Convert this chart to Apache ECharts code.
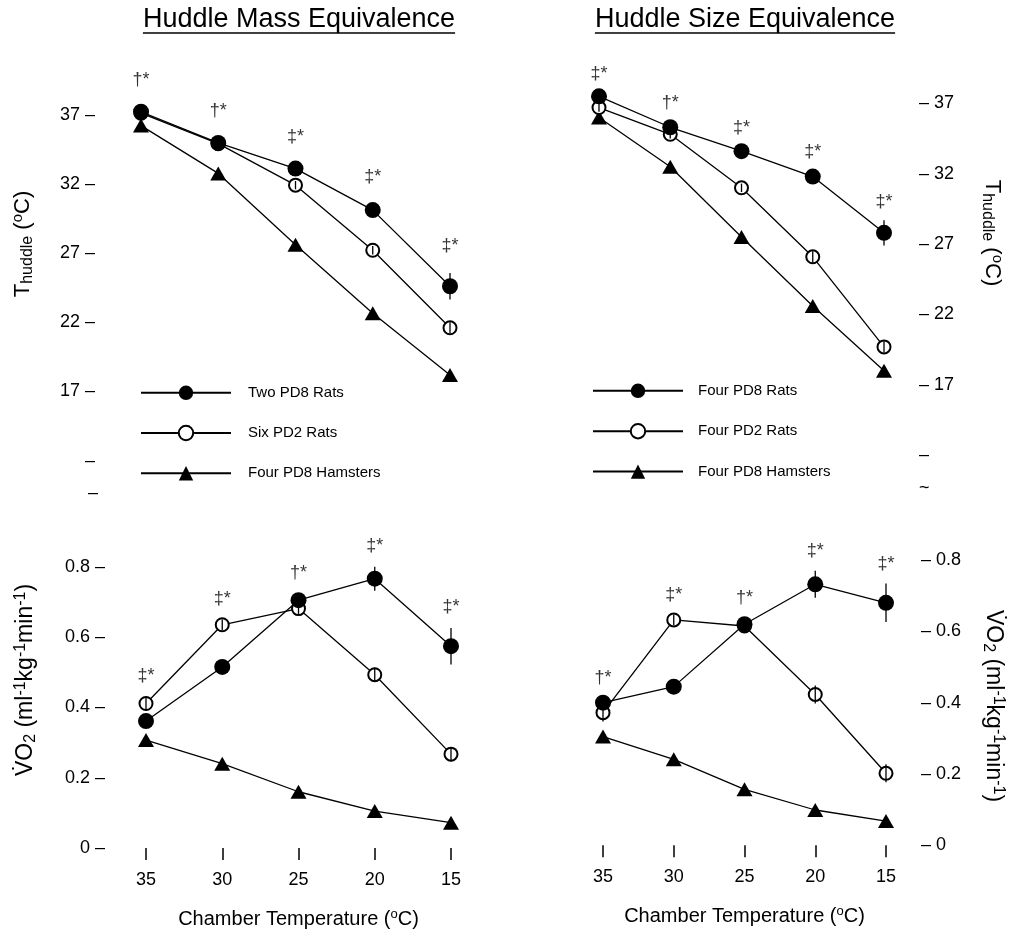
<!DOCTYPE html>
<html><head><meta charset="utf-8">
<script src="https://cdn.jsdelivr.net/npm/echarts@6/dist/echarts.min.js"></script>
<style>html,body{margin:0;padding:0;background:#fff}#c{width:1013px;height:932px}</style>
</head><body><div id="c"></div>
<script>
const FONT = '"Liberation Sans", Arial, Helvetica, sans-serif';
const INK = '#000';

// Chamber temperatures (x categories)
const temps = [35, 30, 25, 20, 15];

// Huddle Mass Equivalence - T_huddle (°C)
const massT_two = [37.2, 34.95, 33.1, 30.1, 24.6];
const massT_twoErr = [0.3, 0.3, 0.3, 0.4, 0.95];
const massT_six = [37.1, 34.9, 31.9, 27.2, 21.6];
const massT_sixErr = [0.2, 0.2, 0.3, 0.3, 0.4];
const massT_ham = [36.2, 32.75, 27.6, 22.65, 18.2];
const massT_marks = ['†*', '†*', '‡*', '‡*', '‡*'];

// Huddle Size Equivalence - T_huddle (°C)
const sizeT_rat8 = [37.5, 35.3, 33.6, 31.8, 27.8];
const sizeT_rat8Err = [0.3, 0.4, 0.3, 0.4, 0.9];
const sizeT_rat2 = [36.7, 34.8, 31.0, 26.1, 19.7];
const sizeT_rat2Err = [0.3, 0.3, 0.3, 0.4, 0.4];
const sizeT_ham = [36.0, 32.5, 27.5, 22.6, 18.0];
const sizeT_marks = ['‡*', '†*', '‡*', '‡*', '‡*'];

// Huddle Mass Equivalence - VO2
const massV_two = [0.361, 0.515, 0.705, 0.766, 0.574];
const massV_twoErr = [0.01, 0.015, 0.02, 0.034, 0.052];
const massV_six = [0.411, 0.635, 0.681, 0.493, 0.267];
const massV_sixErr = [0.02, 0.015, 0.015, 0.02, 0.02];
const massV_ham = [0.307, 0.24, 0.16, 0.105, 0.072];
const massV_marks = ['‡*', '‡*', '†*', '‡*', '‡*'];

// Huddle Size Equivalence - VO2
const sizeV_rat8 = [0.40, 0.445, 0.62, 0.732, 0.68];
const sizeV_rat8Err = [0.015, 0.015, 0.02, 0.038, 0.054];
const sizeV_rat2 = [0.372, 0.632, 0.615, 0.423, 0.202];
const sizeV_rat2Err = [0.025, 0.015, 0.015, 0.025, 0.025];
const sizeV_ham = [0.305, 0.241, 0.157, 0.099, 0.068];
const sizeV_marks = ['†*', '‡*', '†*', '‡*', '‡*'];

// Legend names
const massNames = ['Two PD8 Rats', 'Six PD2 Rats', 'Four PD8 Hamsters'];
const sizeNames = ['Four PD8 Rats', 'Four PD2 Rats', 'Four PD8 Hamsters'];

// Tick labels
const tTicks = [17, 22, 27, 32, 37];
const tBreakTick = 12;
const vTicks = [0, 0.2, 0.4, 0.6, 0.8];
const xTicks = [35, 30, 25, 20, 15];

const chart = echarts.init(document.getElementById('c'));

function yFmt(ticks, side, brk) {
  return function (v) {
    const r = Math.round(v * 1000) / 1000;
    if (ticks.indexOf(r) >= 0) return side === 'left' ? r + ' –' : '– ' + r;
    if (brk !== undefined && r === brk) return '–';
    return '';
  };
}

const zeroErr = [0, 0, 0, 0, 0];
const styles = {
  filled: { symbol: 'circle', symbolSize: 16, itemStyle: { color: INK, borderColor: INK, borderWidth: 0 } },
  open: { symbol: 'circle', symbolSize: 13, itemStyle: { color: '#fff', borderColor: INK, borderWidth: 2 } },
  tri: { symbol: 'triangle', symbolSize: [16, 14], itemStyle: { color: INK, borderColor: INK, borderWidth: 0 } }
};

const series = [];
function addPanel(idx, sets, marks, dist) {
  sets.forEach(s => {
    series.push(Object.assign({
      name: s.name, type: 'line', xAxisIndex: idx, yAxisIndex: idx,
      data: temps.map((t, i) => [t, s.vals[i]]),
      showSymbol: true, showAllSymbol: true, clip: false, animation: false,
      lineStyle: { color: INK, width: 1.3 }, emphasis: { disabled: true }, z: 2
    }, styles[s.kind]));
  });
  sets.forEach(s => {
    series.push({
      type: 'custom', xAxisIndex: idx, yAxisIndex: idx, silent: true, animation: false, z: 5,
      data: temps.map((t, i) => [t, s.vals[i], s.errs[i]]),
      renderItem: function (params, api) {
        const x = api.value(0), y = api.value(1), e = api.value(2);
        if (!e) return null;
        const p1 = api.coord([x, y + e]), p2 = api.coord([x, y - e]);
        return { type: 'line', shape: { x1: p1[0], y1: p1[1], x2: p2[0], y2: p2[1] },
          style: { stroke: INK, lineWidth: 1.3 } };
      }
    });
  });
  const anchors = temps.map((t, i) => Math.max.apply(null, sets.map(s => s.vals[i] + s.errs[i])));
  series.push({
    type: 'scatter', xAxisIndex: idx, yAxisIndex: idx, silent: true, animation: false, z: 6,
    symbolSize: 1, itemStyle: { color: 'rgba(0,0,0,0)' }, clip: false,
    data: temps.map((t, i) => ({ value: [t, anchors[i]], name: marks[i] })),
    label: { show: true, position: 'top', distance: dist, formatter: '{b}',
      fontFamily: FONT, fontSize: 18, color: INK }
  });
}

addPanel(0, [
  { name: massNames[2], vals: massT_ham, errs: zeroErr, kind: 'tri' },
  { name: massNames[1], vals: massT_six, errs: massT_sixErr, kind: 'open' },
  { name: massNames[0], vals: massT_two, errs: massT_twoErr, kind: 'filled' }
], massT_marks, 18);
addPanel(1, [
  { name: sizeNames[2], vals: sizeT_ham, errs: zeroErr, kind: 'tri' },
  { name: sizeNames[1], vals: sizeT_rat2, errs: sizeT_rat2Err, kind: 'open' },
  { name: sizeNames[0], vals: sizeT_rat8, errs: sizeT_rat8Err, kind: 'filled' }
], sizeT_marks, 9);
addPanel(2, [
  { name: massNames[2], vals: massV_ham, errs: zeroErr, kind: 'tri' },
  { name: massNames[1], vals: massV_six, errs: massV_sixErr, kind: 'open' },
  { name: massNames[0], vals: massV_two, errs: massV_twoErr, kind: 'filled' }
], massV_marks, 11);
addPanel(3, [
  { name: sizeNames[2], vals: sizeV_ham, errs: zeroErr, kind: 'tri' },
  { name: sizeNames[1], vals: sizeV_rat2, errs: sizeV_rat2Err, kind: 'open' },
  { name: sizeNames[0], vals: sizeV_rat8, errs: sizeV_rat8Err, kind: 'filled' }
], sizeV_marks, 10);

const labelBase = { fontFamily: FONT, fontSize: 18, color: INK };
const hiddenX = (gi) => ({ gridIndex: gi, type: 'value', min: 15, max: 35, inverse: true, show: false });
const shownX = (gi) => ({
  gridIndex: gi, type: 'value', min: 15, max: 35, interval: 5, inverse: true,
  axisLine: { show: false }, splitLine: { show: false },
  axisTick: { show: true, length: 12, lineStyle: { color: INK, width: 1.5 } },
  axisLabel: Object.assign({ margin: 23, formatter: v => (xTicks.indexOf(v) >= 0 ? String(v) : '') }, labelBase),
  name: '{m|Chamber Temperature (}{sup|o}{m|C)}', nameLocation: 'middle', nameGap: 60,
  nameTextStyle: { rich: {
    m: { fontFamily: FONT, fontSize: 20, color: INK },
    sup: { fontFamily: FONT, fontSize: 13, color: INK, padding: [0, 0, 9, 0] }
  } }
});
const yAx = (gi, min, max, interval, pos, offset, fmt) => ({
  gridIndex: gi, type: 'value', min, max, interval, position: pos, offset,
  axisLine: { show: false }, axisTick: { show: false }, splitLine: { show: false },
  axisLabel: Object.assign({ margin: 2, formatter: fmt, align: pos === 'left' ? 'right' : 'left' }, labelBase)
});

const legendBase = {
  orient: 'vertical', itemWidth: 90, itemHeight: 18, selectedMode: false,
  textStyle: { fontFamily: FONT, fontSize: 15, color: INK }
};

function tw(txt, font) {
  const c = document.createElement('canvas').getContext('2d');
  c.font = font; return c.measureText(txt).width;
}
const titleFont = '27px "Liberation Sans", Arial, sans-serif';
const t1 = 'Huddle Mass Equivalence', t2 = 'Huddle Size Equivalence';
const w1 = tw(t1, titleFont), w2 = tw(t2, titleFont);
const tx1 = 299, tx2 = 745, ty = 20, uy = 33;

const richT = {
  m: { fontFamily: FONT, fontSize: 22, fill: INK },
  sub: { fontFamily: FONT, fontSize: 16, fill: INK, padding: [10, 0, 0, 0] },
  sup: { fontFamily: FONT, fontSize: 15, fill: INK, padding: [0, 0, 11, 0] }
};
const richV = {
  m: { fontFamily: FONT, fontSize: 23, fill: INK },
  sub: { fontFamily: FONT, fontSize: 16, fill: INK, padding: [10, 0, 0, 0] },
  sup: { fontFamily: FONT, fontSize: 16, fill: INK, padding: [0, 0, 11, 0] }
};
const tTitle = '{m|T}{sub|huddle}{m| (}{sup|o}{m|C)}';
const vTitle = '{m|V\u0307O}{sub|2}{m| (ml}{sup|-1}{m|kg}{sup|-1}{m|min}{sup|-1}{m|)}';
function rotText(text, rich, x, y, rot) {
  return { type: 'text', x, y, rotation: rot, silent: true,
    style: { text, rich, align: 'center', verticalAlign: 'middle', fill: INK } };
}

chart.setOption({
  backgroundColor: '#fff',
  animation: false,
  grid: [
    { left: 141, width: 309, top: 73, height: 387.75, outerBoundsMode: 'none' },
    { left: 599, width: 285, top: 61.1, height: 394.2, outerBoundsMode: 'none' },
    { left: 146, width: 305, top: 531.6, height: 316.4, outerBoundsMode: 'none' },
    { left: 603, width: 283, top: 524.4, height: 320.9, outerBoundsMode: 'none' }
  ],
  xAxis: [hiddenX(0), hiddenX(1), shownX(2), shownX(3)],
  yAxis: [
    yAx(0, 12, 40, 5, 'left', 44, yFmt(tTicks, 'left', tBreakTick)),
    yAx(1, 12, 40, 5, 'right', 33, yFmt(tTicks, 'right', tBreakTick)),
    yAx(2, 0, 0.9, 0.2, 'left', 39, yFmt(vTicks, 'left')),
    yAx(3, 0, 0.9, 0.2, 'right', 33, yFmt(vTicks, 'right'))
  ],
  legend: [
    Object.assign({}, legendBase, { data: massNames, left: 135, top: 380.3, itemGap: 24.5,
      textStyle: Object.assign({}, legendBase.textStyle, { padding: [0, 0, 0, 12] }) }),
    Object.assign({}, legendBase, { data: sizeNames, left: 587, top: 378.3, itemGap: 24.7,
      textStyle: Object.assign({}, legendBase.textStyle, { padding: [0, 0, 0, 10] }) })
  ],
  graphic: [
    { type: 'text', x: tx1, y: ty, silent: true, style: { text: t1, font: titleFont, fill: INK, align: 'center', verticalAlign: 'middle' } },
    { type: 'line', silent: true, shape: { x1: tx1 - w1 / 2, y1: uy, x2: tx1 + w1 / 2, y2: uy }, style: { stroke: INK, lineWidth: 1.5 } },
    { type: 'text', x: tx2, y: ty, silent: true, style: { text: t2, font: titleFont, fill: INK, align: 'center', verticalAlign: 'middle' } },
    { type: 'line', silent: true, shape: { x1: tx2 - w2 / 2, y1: uy, x2: tx2 + w2 / 2, y2: uy }, style: { stroke: INK, lineWidth: 1.5 } },
    rotText(tTitle, richT, 23, 244, Math.PI / 2),
    rotText(vTitle, richV, 26, 680, Math.PI / 2),
    rotText(tTitle, richT, 992, 233, -Math.PI / 2),
    rotText(vTitle, richV, 993, 706, -Math.PI / 2),
    { type: 'text', x: 98, y: 493, silent: true, style: { text: '–', font: '18px "Liberation Sans", Arial, sans-serif', fill: INK, align: 'right', verticalAlign: 'middle' } },
    { type: 'text', x: 919, y: 488, silent: true, style: { text: '~', font: '18px "Liberation Sans", Arial, sans-serif', fill: INK, align: 'left', verticalAlign: 'middle' } }
  ],
  series: series
});
</script>
</body></html>
